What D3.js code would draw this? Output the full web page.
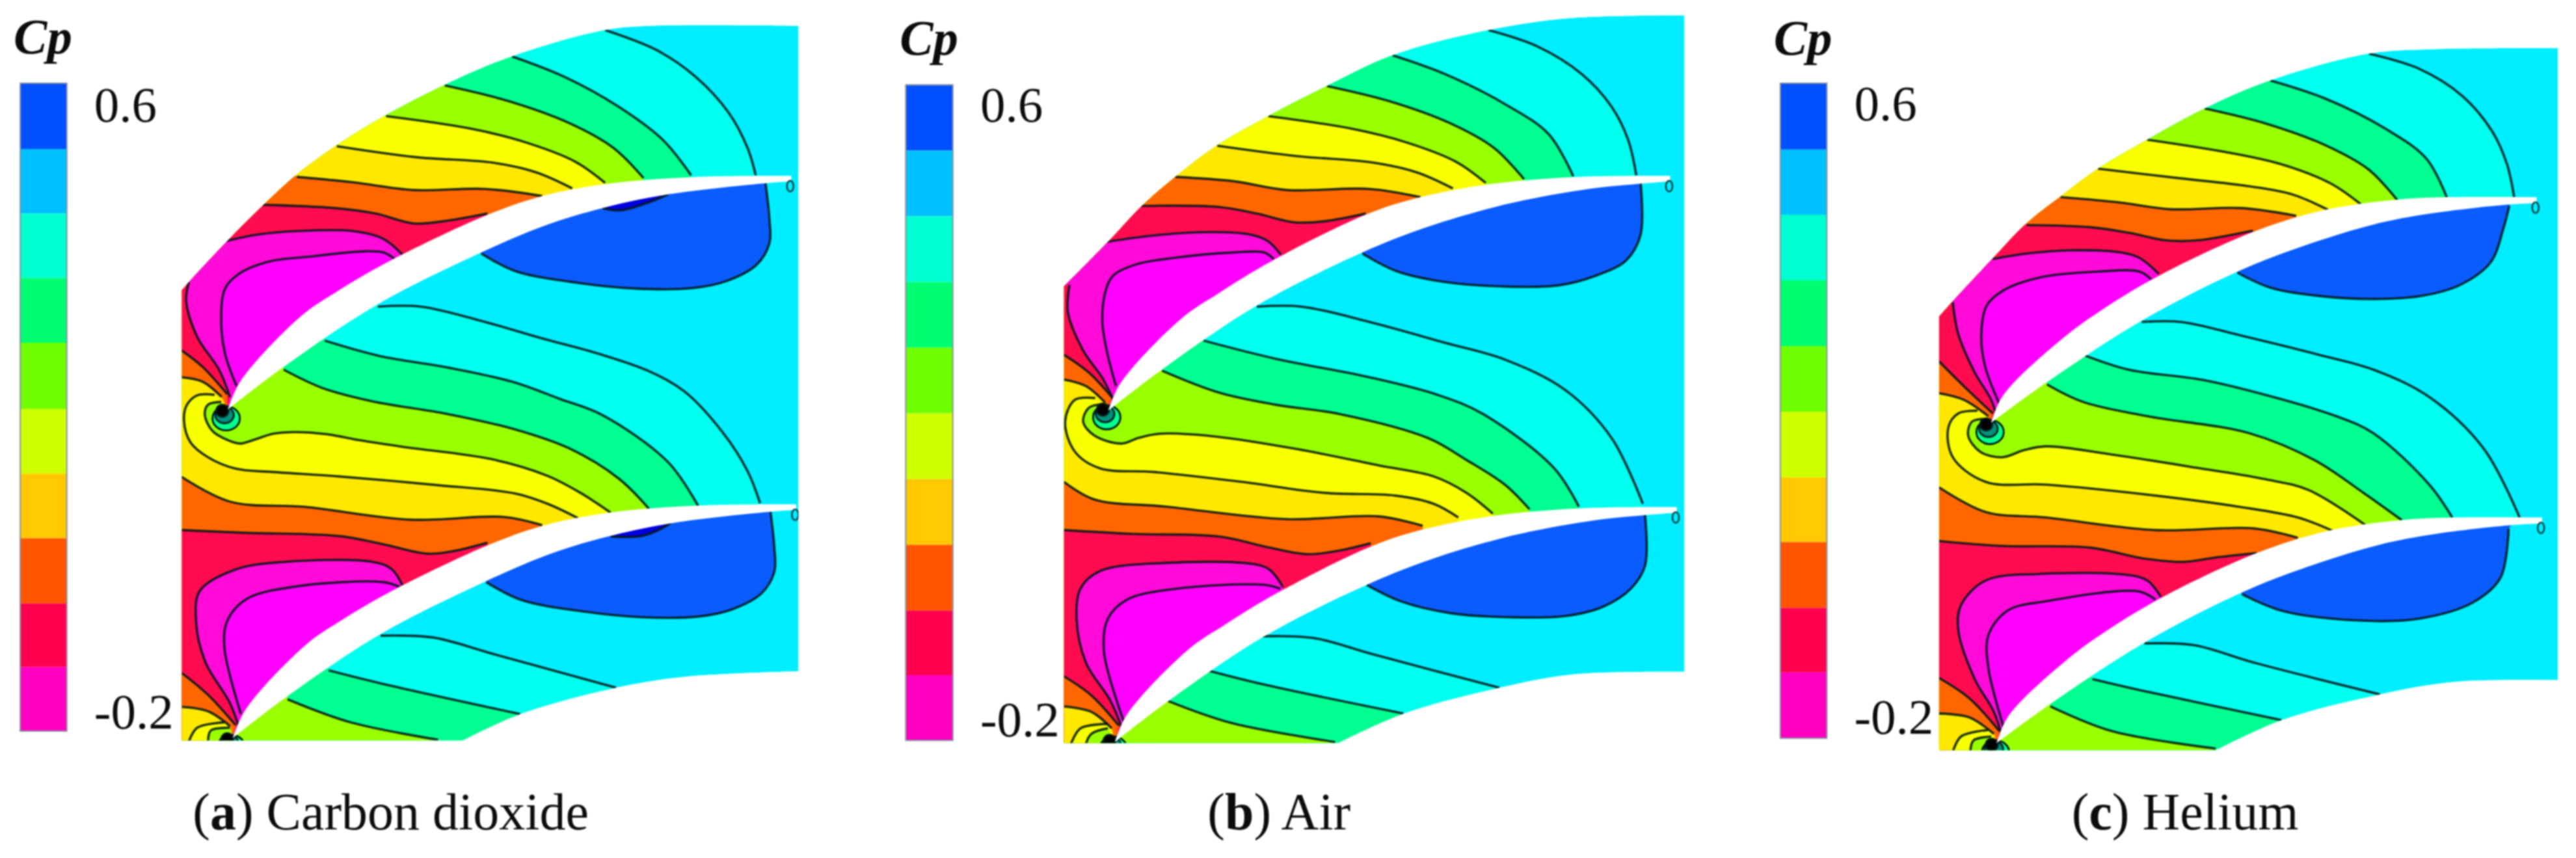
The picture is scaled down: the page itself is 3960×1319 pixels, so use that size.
<!DOCTYPE html>
<html><head><meta charset="utf-8">
<script src="https://cdn.jsdelivr.net/npm/d3@7"></script>
<style>html,body{margin:0;padding:0;background:#fff}svg{display:block;filter:blur(1px)}text{font-family:"Liberation Serif",serif;fill:#0c0c0c}</style>
</head><body><div id="chart"></div>
<script>
// ---------- shared values ----------
const captionKeys=["a","b","c"];
const captionNames=["Carbon dioxide","Air","Helium"];
const tickLabels=["0.6","-0.2"];
const legendTitle="Cp";
const legendColors=["#0050ff","#00c0ff","#00ffd0","#00ff70","#70ff00","#d0ff00","#ffc800","#ff5500","#ff0050","#ff00c0"];
const fieldCyan="#00eeff",fieldAqua="#00ffee",fieldGreen="#00ff90",fieldLime="#99ff00",fieldYellow="#f8ff00",fieldGold="#ffe800",fieldOrange="#ff6600",fieldRed="#ff0b50",fieldMagenta="#ff0ad8",fieldBright="#ff00ff",fieldBlue="#0a5cff",fieldDeep="#0000dd";

// ---------- panel (a) Carbon dioxide ----------
const outerArcA=[[332,530],[345,515],[415,440],[480,375],[540,320],[615,265],[705,210],[812,155],[935,103],[1105,55],[1190,47],[1458,47]];
const innerArcA=[[1458,1226],[1250,1236],[1125,1256],[950,1304],[845,1352]];
const bladeUpperA=[[416,748],[440,695],[549,578],[611,535],[707,479],[886,394],[990,358],[1114,335],[1272,323],[1445,321]];
const bladeLowerA=[[416,748],[511,675],[686,558],[879,461],[1000,410],[1100,380],[1220,355],[1403,334],[1445,331]];
const pitchA=[9,600];
const topLinesA=[
[[1105,55],[1200,92],[1270,140],[1330,205],[1365,270],[1380,320]],
[[935,103],[1030,140],[1130,195],[1210,255],[1262,320]],
[[812,156],[930,185],[1040,225],[1120,270],[1175,325]],
[[705,212],[860,235],[960,260],[1050,295],[1105,334]],
[[615,267],[760,287],[900,297],[980,315],[1045,344]],
[[542,323],[645,333],[755,347],[886,345],[990,358]],
[[480,374],[611,380],[686,390],[755,408],[810,404],[890,390]],
[[414,440],[473,428],[542,422],[645,422],[700,436],[735,465]],
[[345,515],[340,550],[360,615],[400,675],[420,725]],
[[721,473],[700,461],[666,459],[562,469],[494,477],[438,499],[411,527],[404,586],[411,646],[432,705]]];
const leftLinesA=[[[332,640],[370,670],[415,720]],[[332,689],[370,697],[405,725]]];
const midLinesA=[
[[690,560],[769,560],[886,588],[990,618],[1093,646],[1183,677],[1250,715],[1320,790],[1365,860],[1388,919]],
[[593,622],[693,650],[817,671],[935,697],[1024,729],[1100,758],[1220,844],[1275,924]],
[[518,675],[590,709],[680,733],[817,756],[940,784],[1040,819],[1130,874],[1185,929]],
[[404,734],[380,739],[374,757],[388,787],[419,805],[439,810],[467,802],[499,792],[538,789],[597,793],[657,804],[736,816],[900,839],[1000,869],[1060,900],[1115,936]],
[[392,721],[360,722],[341,740],[336,768],[348,808],[380,835],[431,856],[500,862],[618,870],[800,886],[940,901],[1000,920],[1055,946]],
[[332,871],[420,916],[560,926],[750,949],[920,944],[990,959]],
[[332,968],[450,973],[620,979],[700,994],[780,1011],[830,1006],[890,991]],
[[735,1069],[715,1039],[680,1026],[520,1026],[430,1040],[365,1079],[358,1134],[375,1209],[420,1284],[437,1330]],
[[730,1072],[700,1063],[540,1071],[450,1094],[415,1134],[410,1184],[440,1304]]];
const lowLinesA=[[[332,1229],[380,1269],[430,1324]],[[332,1291],[380,1299],[420,1326]],[[345,1354],[360,1329],[410,1319]],[[380,1354],[385,1334],[420,1329]]];
const bottomLinesA=[[[695,1161],[790,1164],[900,1194],[1125,1256]],[[600,1224],[700,1249],[950,1304]],[[525,1277],[640,1319],[800,1351]]];
const blueLinesA=[[[879,463],[941,495],[1059,517],[1162,527],[1265,526],[1327,513],[1382,483],[1405,444],[1405,400],[1398,335]],[[888,1063],[950,1095],[1068,1117],[1171,1127],[1274,1126],[1336,1113],[1391,1083],[1414,1044],[1414,1000],[1407,935]]];
const deepLinesA=[[[1100,380],[1134,384],[1183,370],[1220,355]],[[1115,980],[1170,979],[1200,969],[1225,955]]];
const coreA=[407,750];
const edgesA=[152,272,390,508,626,747,865,983,1102,1218,1335];
const labelXA=[172,222,1330,25,97,352];

// ---------- panel (b) Air ----------
const outerArcB=[[375,523],[455,442],[518,375],[578,323],[655,265],[748,212],[855,157],[975,101],[1150,55],[1300,33],[1508,28]];
const innerArcB=[[1508,1227],[1300,1232],[1170,1256],[995,1303],[875,1357]];
const bladeUpperB=[[456,750],[478,700],[589,582],[658,535],[754,477],[926,392],[1026,360],[1154,336],[1312,323],[1482,321]];
const bladeLowerB=[[456,750],[551,677],[727,558],[920,461],[1037,415],[1154,380],[1223,364],[1333,345],[1433,335],[1482,331]];
const pitchB=[12,605];
const topLinesB=[
[[1150,55],[1240,85],[1320,135],[1375,195],[1405,255],[1420,320]],
[[975,101],[1070,135],[1180,190],[1260,245],[1305,322]],
[[855,157],[970,185],[1080,225],[1160,270],[1215,327]],
[[748,212],[900,235],[1000,260],[1090,295],[1145,334]],
[[655,266],[800,285],[940,297],[1020,315],[1085,344]],
[[578,323],[685,331],[782,347],[933,345],[1026,360]],
[[516,376],[658,378],[727,390],[796,406],[851,404],[926,390]],
[[451,442],[520,432],[623,424],[713,428],[747,440],[771,465]],
[[385,520],[382,570],[410,640],[445,690],[465,730]],
[[758,473],[740,461],[685,461],[575,471],[506,483],[465,503],[451,531],[445,586],[453,640],[470,705]]];
const leftLinesB=[[[375,648],[420,680],[462,725]],[[375,693],[415,705],[450,735]]];
const midLinesB=[
[[727,560],[809,560],[933,588],[1071,626],[1181,657],[1290,712],[1375,800],[1432,920]],
[[630,622],[761,655],[933,689],[1057,721],[1140,756],[1270,855],[1315,925]],
[[554,677],[658,717],[761,739],[878,756],[1040,800],[1110,840],[1180,885],[1225,930]],
[[445,738],[420,745],[410,770],[430,795],[480,810],[510,800],[550,792],[650,797],[800,820],[950,850],[1050,870],[1110,900],[1158,938]],
[[432,727],[395,730],[377,770],[395,825],[440,855],[540,862],[700,880],[850,900],[980,905],[1050,920],[1095,945]],
[[375,880],[430,912],[560,925],[780,948],[950,943],[1030,960]],
[[375,968],[500,975],[660,980],[750,1000],[820,1012],[880,1005],[935,992]],
[[775,1072],[750,1040],[720,1030],[560,1028],[440,1043],[405,1075],[398,1130],[415,1210],[460,1280],[480,1328]],
[[770,1075],[740,1068],[580,1075],[490,1095],[455,1130],[448,1190],[485,1320]]];
const lowLinesB=[[[375,1235],[425,1270],[475,1325]],[[375,1290],[425,1300],[462,1330]],[[388,1358],[405,1330],[455,1322]],[[415,1358],[425,1340],[455,1330]]];
const bottomLinesB=[[[735,1162],[830,1165],[940,1195],[1170,1256]],[[640,1225],[740,1250],[995,1303]],[[565,1280],[680,1320],[870,1355]]];
const blueLinesB=[[[920,463],[982,495],[1071,515],[1174,523],[1278,521],[1347,503],[1402,475],[1428,428],[1428,335]],[[928,1068],[990,1098],[1083,1120],[1186,1127],[1290,1125],[1359,1108],[1410,1075],[1436,1033],[1436,940]]];
const deepLinesB=[];
const coreB=[447,748];
const edgesB=[155,275,395,515,635,755,875,995,1115,1233,1352];
const labelXB=[222,222,1345,75,100,637];

// ---------- panel (c) Helium ----------
const outerArcC=[[405,578],[430,550],[500,475],[562,410],[625,360],[695,308],[785,255],[890,198],[1010,147],[1190,98],[1300,90],[1535,88]];
const innerArcC=[[1535,1242],[1350,1245],[1210,1268],[1030,1315],[910,1370]];
const bladeUpperC=[[500,772],[522,722],[627,621],[702,566],[813,500],[985,421],[1116,382],[1247,364],[1336,360],[1496,360]];
const bladeLowerC=[[500,772],[599,700],[771,588],[950,496],[1068,450],[1198,410],[1302,390],[1440,374],[1496,371]];
const pitchC=[10,585];
const topLinesC=[
[[1190,98],[1280,125],[1360,175],[1415,240],[1442,300],[1455,360]],
[[1010,147],[1110,180],[1220,235],[1295,290],[1332,360]],
[[890,198],[1000,225],[1110,265],[1190,310],[1242,366]],
[[785,255],[930,278],[1030,300],[1120,335],[1175,373]],
[[695,308],[840,325],[970,340],[1050,355],[1115,383]],
[[627,360],[737,370],[826,382],[957,380],[1057,394]],
[[565,411],[682,415],[751,425],[820,439],[875,439],[978,421]],
[[503,473],[565,463],[647,457],[737,461],[771,471],[806,500]],
[[430,552],[440,610],[470,680],[500,730],[510,760]],
[[792,510],[771,496],[695,496],[592,506],[523,530],[492,558],[482,613],[489,669],[516,740]]];
const leftLinesC=[[[405,660],[450,705],[503,755]],[[405,718],[450,730],[495,760]]];
const midLinesC=[
[[775,588],[847,588],[957,613],[1095,647],[1198,675],[1300,725],[1400,820],[1465,945]],
[[671,649],[751,675],[888,694],[1026,728],[1130,760],[1198,791],[1300,885],[1342,945]],
[[602,702],[668,734],[785,760],[971,791],[1090,840],[1180,900],[1250,950]],
[[490,765],[465,770],[458,795],[480,825],[520,835],[560,822],[600,815],[720,830],[880,855],[1000,875],[1080,895],[1185,960]],
[[475,750],[440,755],[422,780],[430,835],[490,880],[600,885],[800,905],[950,925],[1060,945],[1125,970]],
[[405,890],[490,935],[600,945],[800,968],[980,965],[1060,982]],
[[405,988],[520,997],[680,1000],[780,1020],[850,1026],[910,1018],[985,1010]],
[[810,1090],[785,1060],[750,1050],[590,1048],[490,1060],[445,1105],[440,1150],[470,1240],[505,1300],[520,1345]],
[[800,1095],[770,1080],[600,1098],[530,1115],[495,1160],[495,1220],[525,1335]]];
const lowLinesC=[[[405,1238],[460,1275],[515,1335]],[[405,1303],[460,1310],[505,1340]],[[430,1373],[445,1345],[495,1333]],[[462,1373],[468,1352],[500,1345]]];
const bottomLinesC=[[[780,1175],[870,1178],[980,1210],[1210,1268]],[[685,1240],[780,1262],[1030,1315]],[[608,1290],[720,1335],[910,1367]]];
const blueLinesC=[[[950,498],[1012,526],[1095,540],[1198,546],[1288,540],[1357,520],[1412,479],[1436,415],[1446,376]],[[958,1085],[1030,1115],[1170,1133],[1280,1130],[1380,1100],[1430,1055],[1445,965]]];
const deepLinesC=[];
const coreC=[492,775];
const edgesC=[152,273,392,512,632,752,872,990,1110,1228,1348];
const labelXC=[250,220,1340,103,100,647];

const barSpan=[[37,122],[86,172],[115,200]];
const panelOffsets=[0,1320,2640];

const panels=[
 {outer:outerArcA,inner:innerArcA,up:bladeUpperA,lo:bladeLowerA,pitch:pitchA,top:topLinesA,left:leftLinesA,mid:midLinesA,low:lowLinesA,bottom:bottomLinesA,blue:blueLinesA,deep:deepLinesA,core:coreA,edges:edgesA,labels:labelXA},
 {outer:outerArcB,inner:innerArcB,up:bladeUpperB,lo:bladeLowerB,pitch:pitchB,top:topLinesB,left:leftLinesB,mid:midLinesB,low:lowLinesB,bottom:bottomLinesB,blue:blueLinesB,deep:deepLinesB,core:coreB,edges:edgesB,labels:labelXB},
 {outer:outerArcC,inner:innerArcC,up:bladeUpperC,lo:bladeLowerC,pitch:pitchC,top:topLinesC,left:leftLinesC,mid:midLinesC,low:lowLinesC,bottom:bottomLinesC,blue:blueLinesC,deep:deepLinesC,core:coreC,edges:edgesC,labels:labelXC}
];

// ---------- drawing ----------
const svg=d3.select("#chart").append("svg").attr("width",3960).attr("height",1319).attr("viewBox","0 0 3960 1319");
svg.append("rect").attr("width",3960).attr("height",1319).attr("fill","#fff");
const yS=d3.scaleLinear().domain([0,1568]).range([0,1320]);

panels.forEach((p,pi)=>{
 const xS=d3.scaleLinear().domain([0,1568]).range([panelOffsets[pi],panelOffsets[pi]+1320]);
 const g=svg.append("g");
 const sc=q=>[xS(q[0]),yS(q[1])];
 const curve=d3.line().x(d=>xS(d[0])).y(d=>yS(d[1])).curve(d3.curveCatmullRom.alpha(0.5));
 const tail=pts=>pts.map(q=>{const s=sc(q);return "L"+s[0]+","+s[1];}).join("");
 const area=(line,closure)=>curve(line)+tail(closure)+"Z";

 const shift=(pts,d)=>pts.map(q=>[q[0]+d[0],q[1]+d[1]]);
 const camber=(up,lo)=>{
   const u=d3.scaleLinear().domain(up.map(d=>d[0])).range(up.map(d=>d[1]));
   const l=d3.scaleLinear().domain(lo.map(d=>d[0])).range(lo.map(d=>d[1]));
   return d3.range(up[0][0],up[up.length-1][0]+1,8).map(x=>[x,(u(x)+l(x))/2]);
 };
 const mid1=camber(p.up,p.lo);
 const mid2=shift(mid1,p.pitch);
 const tip1=p.up[0],tip2=[tip1[0]+p.pitch[0],tip1[1]+p.pitch[1]];
 const back=(m,x)=>m.filter(q=>q[0]<x).reverse();
 const fwd=(m,a,b)=>m.filter(q=>q[0]>a&&q[0]<b);
 const last=a=>a[a.length-1];
 const far=-200,deepY=1700;

 const clipId="clip"+pi;
 const domainPath=curve(p.outer)+"L"+xS(p.inner[0][0])+","+yS(p.inner[0][1])+curve(p.inner).replace(/^M/,"L")+tail([[p.outer[0][0],last(p.inner)[1]]])+"Z";
 g.append("clipPath").attr("id",clipId).append("path").attr("d",domainPath);
 const field=g.append("g").attr("clip-path",`url(#${clipId})`);
 const fill=(d,c)=>field.append("path").attr("d",d).attr("fill",c).attr("stroke",c).attr("stroke-width",0.6);
 field.append("path").attr("d",domainPath).attr("fill",fieldCyan);

 const [T1,T2,T3,T4,T5,T6,T7,T8,T9,T10]=p.top;
 const [L1,L2]=p.left;
 const [M1,M2,M3,M4,M5,M6,M7,M8,M9]=p.mid;
 const [L3,L4,L5,L6]=p.low;
 const [B1,B2,B3]=p.bottom;

 const topClose=l=>back(mid1,last(l)[0]).concat([[far,tip1[1]],[far,far]]);
 const midClose=l=>back(mid2,last(l)[0]).concat([[far,tip2[1]],[far,tip1[1]]]).concat(fwd(mid1,tip1[0]-1,l[0][0]));
 const botClose=l=>[[last(l)[0],deepY],[far,deepY],[far,tip2[1]]].concat(fwd(mid2,tip2[0]-1,l[0][0]));
 const sideClose=(l,y)=>back(mid2,last(l)[0]).concat([[far,tip2[1]],[far,y]]);

 [[fieldAqua,T1,M1,B1],[fieldGreen,T2,M2,B2],[fieldLime,T3,M3,B3]].forEach(([c,t,m,b])=>{
   fill(area(t,topClose(t)),c);
   fill(area(m,midClose(m)),c);
   fill(area(b,botClose(b)),c);
 });
 fill(area(M4,sideClose(M4,M5[0][1]-2).concat([[M4[0][0],M5[0][1]-2]])),fieldYellow);
 const upToHook=l=>back(mid1,last(l)[0]).concat([M5[0],[far,M5[0][1]],[far,far]]);
 fill(area(T4,upToHook(T4)),fieldYellow);
 fill(area(M5,sideClose(M5,M5[0][1])),fieldGold);
 fill(area(T5,upToHook(T5)),fieldGold);
 const upToLeft=(l,s)=>back(mid1,last(l)[0]).concat(s.slice().reverse()).concat([[far,s[0][1]],[far,far]]);
 fill(area(T6,upToLeft(T6,L2)),fieldOrange);
 fill(area(M6,sideClose(M6,M6[0][1])),fieldOrange);
 fill(area(T7,upToLeft(T7,L1)),fieldRed);
 fill(area(M7,sideClose(M7,M7[0][1])),fieldRed);
 fill(area(T8,back(mid1,last(T8)[0]).concat(T9.slice().reverse()).concat([[far,T9[0][1]],[far,far]])),fieldMagenta);
 fill(area(T10,fwd(mid1,last(T10)[0]-20,T10[0][0])),fieldBright);
 fill(area(M8,fwd(mid2,last(M8)[0]-10,M8[0][0])),fieldMagenta);
 fill(area(M9,fwd(mid2,last(M9)[0]-20,M9[0][0])),fieldBright);
 // lower-left corner under the second leading edge
 fill(area(L3,[tip2,[tip2[0],deepY],[far,deepY],[far,L3[0][1]]]),fieldOrange);
 fill(area(L4,[tip2,[tip2[0],deepY],[far,deepY],[far,L4[0][1]]]),fieldGold);
 fill(area(L5,[tip2,[tip2[0],deepY],[L5[0][0],deepY]]),fieldYellow);
 fill(area(L6,[tip2,[tip2[0],deepY],[L6[0][0],deepY]]),fieldLime);
 // high pressure pockets
 p.blue.forEach((l,i)=>{
   const m=i?mid2:mid1;
   fill(area(l,back(m,last(l)[0]+12).filter(q=>q[0]>l[0][0]-12)),fieldBlue);
 });
 p.deep.forEach((l,i)=>{
   const m=i?mid2:mid1;
   fill(area(l,back(m,last(l)[0]).filter(q=>q[0]>l[0][0])),fieldDeep);
 });

 // contour lines
 const strokeLines=[].concat(p.top,p.left,p.mid,p.low,p.bottom,p.blue,p.deep);
 field.selectAll("path.iso").data(strokeLines).join("path").attr("class","iso")
   .attr("d",curve).attr("fill","none").attr("stroke","#03181a").attr("stroke-opacity",0.88).attr("stroke-width",3.6);

 // stagnation cores and trailing edge swirls
 const scaleR=d3.scaleLinear().domain([0,1568]).range([0,1320]);
 const rings=[[6,14,25,22,fieldGreen],[3,8,17,15,"#00907c"],[-1,0,11,11,"#000"]];
 [[0,0],p.pitch].forEach(d=>{
   rings.forEach(r=>{
     field.append("ellipse").attr("cx",xS(p.core[0]+d[0]+r[0])).attr("cy",yS(p.core[1]+d[1]+r[1]))
      .attr("rx",scaleR(r[2])).attr("ry",scaleR(r[3])).attr("fill",r[4]).attr("stroke","#03181a").attr("stroke-width",2.8);
   });
 });

 // blades
 [[0,0],p.pitch].forEach(d=>{
   const u=shift(p.up,d),l=shift(p.lo,d).reverse();
   field.append("path").attr("d",curve(u)+"L"+xS(l[0][0])+","+yS(l[0][1])+curve(l).replace(/^M/,"L")+"Z").attr("fill","#fff");
   const te=last(u);
   field.append("ellipse").attr("cx",xS(te[0]-2)).attr("cy",yS(te[1]+19)).attr("rx",scaleR(6)).attr("ry",scaleR(10))
     .attr("fill",fieldCyan).attr("stroke","#03181a").attr("stroke-opacity",0.85).attr("stroke-width",2.4);
 });

 // legend bar
 const bar=barSpan[pi];
 g.selectAll("rect.band").data(legendColors).join("rect").attr("class","band")
  .attr("x",xS(bar[0])).attr("width",xS(bar[1])-xS(bar[0]))
  .attr("y",(d,i)=>yS(p.edges[i])).attr("height",(d,i)=>yS(p.edges[i+1])-yS(p.edges[i])).attr("fill",d=>d);
 g.append("rect").attr("x",xS(bar[0])).attr("width",xS(bar[1])-xS(bar[0])).attr("y",yS(p.edges[0])).attr("height",yS(p.edges[10])-yS(p.edges[0]))
  .attr("fill","none").attr("stroke","#8890a0").attr("stroke-width",2);

 const [tx,ty1,ty2,cx,cy,capx]=p.labels;
 g.append("text").attr("x",xS(tx)).attr("y",yS(ty1)).attr("font-size",77).text(tickLabels[0]);
 g.append("text").attr("x",xS(tx)).attr("y",yS(ty2)).attr("font-size",77).text(tickLabels[1]);
 g.append("text").attr("x",xS(cx)).attr("y",yS(cy)).attr("font-size",77).attr("font-style","italic").attr("font-weight","bold").text(legendTitle);
 const cap=g.append("text").attr("x",xS(capx)).attr("y",yS(1515)).attr("font-size",80);
 cap.append("tspan").text("(");
 cap.append("tspan").attr("font-weight","bold").text(captionKeys[pi]);
 cap.append("tspan").text(") "+captionNames[pi]);
});
</script></body></html>
